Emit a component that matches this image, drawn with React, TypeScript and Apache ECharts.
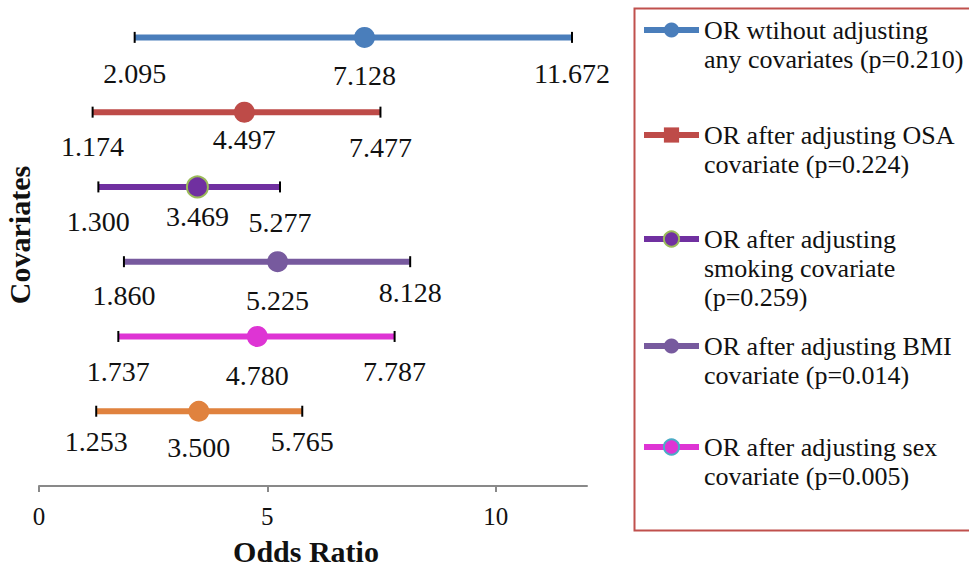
import React, { useEffect, useRef } from "react";
import * as echarts from "echarts";

// ---------- data ----------
const seriesNames = [
  "OR wtihout adjusting\nany covariates (p=0.210)",
  "OR after adjusting OSA\ncovariate (p=0.224)",
  "OR after adjusting\nsmoking covariate\n(p=0.259)",
  "OR after adjusting BMI\ncovariate (p=0.014)",
  "OR after adjusting sex\ncovariate (p=0.005)",
  "OR after adjusting covariates",
];
const inLegend = [true, true, true, true, true, false];
const rowIndex = [6, 5, 4, 3, 2, 1];
const orValues = [7.128, 4.497, 3.469, 5.225, 4.78, 3.5];
const lowerCI = [2.095, 1.174, 1.3, 1.86, 1.737, 1.253];
const upperCI = [11.672, 7.477, 5.277, 8.128, 7.787, 5.765];
const xTickValues = [0, 5, 10];

// ---------- styles / layout ----------
const colors = ["#4a7ebb", "#be4b48", "#7030a0", "#775a9e", "#de34d4", "#e0823e"];
const markerBorder = [null, null, "#9bbb59", null, "#4bacc6", null];
const showBorderOnChart = [false, false, true, false, false, false];
const legendSymbol = ["circle", "rect", "circle", "circle", "circle", "circle"];
const legendCenters = [30, 135, 239, 346, 447];
// label vertical offsets [low, OR, high] (pixels)
const labelDy = [
  [36, 38, 36],
  [34, 27, 35],
  [35, 30, 36],
  [34, 39, 31],
  [35, 39, 35],
  [30, 36, 30],
];

const SERIF = "'Liberation Serif', 'Times New Roman', serif";
const LEGEND_LH = 29;

export default function App() {
  const ref = useRef<HTMLDivElement>(null);
  useEffect(() => {
    if (!ref.current) return;
    const chart = echarts.init(ref.current, null, { renderer: "svg" });

    const labelFor = (dy: number) => ({
      show: true,
      position: "inside",
      offset: [0, dy],
      color: "#111",
      fontFamily: SERIF,
      fontSize: 28,
      formatter: (p: any) => Number(p.value[0]).toFixed(3),
    });

    const series: any[] = seriesNames.map((name, i) => {
      const c = colors[i];
      const b = markerBorder[i];
      const endItem = (v: number, dy: number) => ({
        value: [v, rowIndex[i]],
        symbol: "rect",
        symbolSize: [2, 11],
        itemStyle: { color: "#000", borderWidth: 0 },
        label: labelFor(dy),
      });
      return {
        type: "line",
        name,
        symbol: legendSymbol[i],
        symbolSize: 21,
        showAllSymbol: true,
        lineStyle: { color: c, width: 6 },
        itemStyle: {
          color: c,
          borderColor: b || c,
          borderWidth: b ? 2 : 0,
        },
        emphasis: { disabled: true },
        clip: false,
        z: 2,
        data: [
          endItem(lowerCI[i], labelDy[i][0]),
          {
            value: [orValues[i], rowIndex[i]],
            symbol: "circle",
            symbolSize: 21,
            itemStyle: {
              color: c,
              borderColor: showBorderOnChart[i] && b ? b : c,
              borderWidth: showBorderOnChart[i] && b ? 2 : 0,
            },
            label: labelFor(labelDy[i][1]),
          },
          endItem(upperCI[i], labelDy[i][2]),
        ],
      };
    });

    const legends: any[] = [];
    let k = 0;
    seriesNames.forEach((name, i) => {
      if (!inLegend[i]) return;
      const b = markerBorder[i];
      const nLines = name.split("\n").length;
      // pad with blank lines above so that the icon sits beside the first line
      const blanks = nLines - 1;
      legends.push({
        show: true,
        data: [name],
        orient: "vertical",
        left: 641,
        top: legendCenters[k] - (2 * nLines - 1) * (LEGEND_LH / 2),
        padding: 0,
        itemWidth: 55,
        itemHeight: 19,
        itemGap: 0,
        selectedMode: false,
        formatter: (n: string) => "\n".repeat(blanks) + n,
        lineStyle: { width: 6, color: colors[i] },
        itemStyle: {
          color: colors[i],
          borderColor: b || colors[i],
          borderWidth: b ? 2 : 0,
        },
        textStyle: {
          fontFamily: SERIF,
          fontSize: 26,
          lineHeight: LEGEND_LH,
          color: "#111",
        },
      });
      k++;
    });

    chart.setOption({
      animation: false,
      backgroundColor: "#ffffff",
      grid: {
        left: 39,
        right: 382,
        top: 0,
        bottom: 86,
        containLabel: false,
        outerBoundsMode: "none",
      },
      xAxis: {
        type: "value",
        min: 0,
        max: 12,
        interval: 5,
        name: "Odds Ratio",
        nameLocation: "middle",
        nameGap: 50,
        nameTextStyle: {
          fontFamily: SERIF,
          fontSize: 30,
          fontWeight: "bold",
          color: "#111",
          padding: [0, 14, 0, 0],
        },
        axisLine: { show: true, lineStyle: { color: "#898989", width: 2 } },
        axisTick: { show: true, length: 6, lineStyle: { color: "#898989", width: 2 }, customValues: xTickValues },
        axisLabel: {
          fontFamily: SERIF,
          fontSize: 25,
          color: "#111",
          margin: 18,
          customValues: xTickValues,
        },
        splitLine: { show: false },
      },
      yAxis: {
        type: "value",
        min: 0,
        max: 6.5,
        name: "Covariates",
        nameLocation: "middle",
        nameRotate: 90,
        nameGap: 5,
        nameTextStyle: {
          fontFamily: SERIF,
          fontSize: 30,
          fontWeight: "bold",
          color: "#111",
          padding: [0, 0, 0, 16],
        },
        axisLine: { show: false },
        axisTick: { show: false },
        axisLabel: { show: false },
        splitLine: { show: false },
      },
      legend: legends,
      graphic: [
        {
          type: "rect",
          left: 632,
          top: 6,
          shape: { width: 345, height: 522 },
          style: { fill: "none", stroke: "#c0504d", lineWidth: 2 },
          silent: true,
        },
      ],
      series,
    });
    return () => chart.dispose();
  }, []);
  return (
    <div
      ref={ref}
      style={{ position: "fixed", left: 0, top: 0, width: 969, height: 572, background: "#fff" }}
    />
  );
}
